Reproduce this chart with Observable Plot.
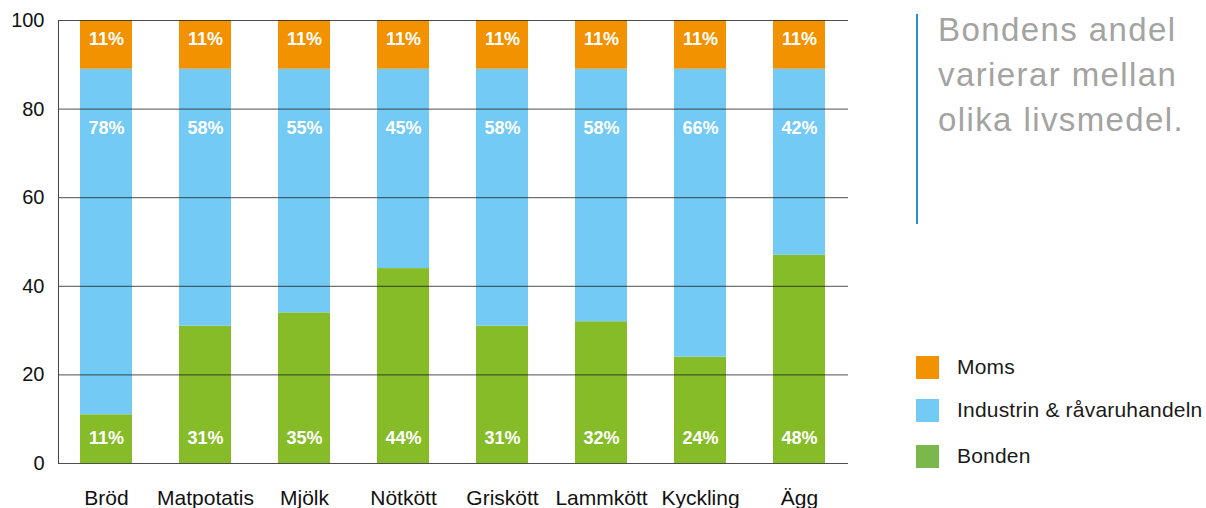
<!DOCTYPE html>
<html>
<head>
<meta charset="utf-8">
<script src="https://cdn.jsdelivr.net/npm/d3@7"></script>
<script src="https://cdn.jsdelivr.net/npm/@observablehq/plot@0.6"></script>
<style>
  html, body { margin: 0; padding: 0; background: #fff; }
  body { width: 1206px; height: 508px; position: relative; overflow: hidden; font-family: "Liberation Sans", Arial, sans-serif; }
  #chart { position: absolute; left: 0; top: 0; }
  #side-line { position: absolute; left: 916px; top: 14px; width: 1.5px; height: 210px; background: #2a8fd0; }
  #title { position: absolute; left: 938px; top: 7px; color: #a3a3a1; font-size: 33px; line-height: 45px; letter-spacing: 1.4px; white-space: nowrap; }
  #legend { position: absolute; left: 916px; top: 356px; }
  .item { position: absolute; left: 0; white-space: nowrap; }
  .sw { position: absolute; left: 0; top: 0; width: 23px; height: 23px; }
  .lt { position: absolute; left: 41px; top: -1px; font-size: 21px; line-height: 23px; color: #1a1a1a; letter-spacing: 0.2px; }
</style>
</head>
<body>
<div id="chart"></div>
<div id="side-line"></div>
<div id="title">Bondens andel<br>varierar mellan<br>olika livsmedel.</div>
<div id="legend"></div>
<script>
const categories = ["Bröd", "Matpotatis", "Mjölk", "Nötkött", "Griskött", "Lammkött", "Kyckling", "Ägg"];
const series = ["Bonden", "Industrin & råvaruhandeln", "Moms"];
const bonden = [11, 31, 34, 44, 31, 32, 24, 47];
const industrin = [78, 58, 55, 45, 58, 57, 65, 42];
const moms = [11, 11, 11, 11, 11, 11, 11, 11];
const bondenLabels = [11, 31, 35, 44, 31, 32, 24, 48];
const industrinLabels = [78, 58, 55, 45, 58, 58, 66, 42];
const momsLabels = [11, 11, 11, 11, 11, 11, 11, 11];
const yTicks = [0, 20, 40, 60, 80, 100];
const barColors = ["#86bc27", "#72caf5", "#f39200"];
const legendColors = ["#7ab84c", "#72caf5", "#f39200"];

const values = [bonden, industrin, moms];
const labels = [bondenLabels, industrinLabels, momsLabels];
const table = [];
categories.forEach((c, i) => {
  series.forEach((s, j) => {
    table.push({cat: c, series: s, value: values[j][i], label: labels[j][i]});
  });
});
const labelPos = {"Bonden": 5.6, "Industrin & råvaruhandeln": 75.6, "Moms": 95.7};

const chart = Plot.plot({
  width: 868,
  height: 508,
  marginLeft: 58,
  marginRight: 20,
  marginTop: 20,
  marginBottom: 45,
  style: {fontFamily: "Liberation Sans, Arial, sans-serif", color: "#111", background: "#fff"},
  x: {domain: categories, paddingInner: 0.47, paddingOuter: 0.21, label: null},
  y: {domain: [0, 100], label: null},
  color: {domain: series, range: barColors},
  marks: [
    Plot.barY(table, {x: "cat", y: "value", fill: "series"}),
    Plot.ruleY(yTicks, {stroke: "#222", strokeOpacity: 0.8, strokeWidth: 1}),
    Plot.frame({anchor: "left", stroke: "#444"}),
    Plot.text(table, {x: "cat", y: d => labelPos[d.series], text: d => d.label + "%", fill: "white", fontWeight: "bold", fontSize: 18, letterSpacing: 1}),
    Plot.axisY(yTicks, {tickSize: 0, tickPadding: 14, fontSize: 20, label: null}),
    Plot.axisX({tickSize: 0, tickPadding: 27, fontSize: 21, label: null})
  ]
});
document.getElementById("chart").appendChild(chart);

const legend = document.getElementById("legend");
const order = [2, 1, 0];
const tops = [0, 43, 89];
order.forEach((j, k) => {
  const it = document.createElement("div");
  it.className = "item";
  it.style.top = tops[k] + "px";
  it.innerHTML = `<div class="sw" style="background:${legendColors[j]}"></div><div class="lt">${series[j]}</div>`;
  legend.appendChild(it);
});
</script>
</body>
</html>
